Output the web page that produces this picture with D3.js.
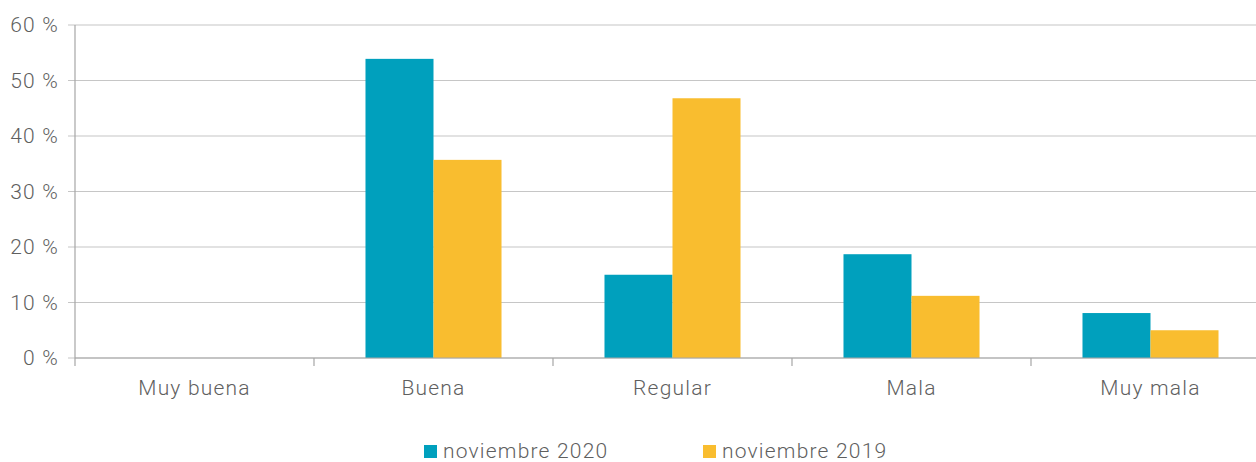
<!DOCTYPE html>
<html>
<head>
<meta charset="utf-8">
<script src="https://cdn.jsdelivr.net/npm/d3@7"></script>
<style>
  body { margin: 0; background: #fff; }
  svg text { font-family: Roboto, "Open Sans", sans-serif; fill: #5f5f5f; }
</style>
</head>
<body>
<div id="chart"></div>
<script>
const categories = ["Muy buena", "Buena", "Regular", "Mala", "Muy mala"];
const seriesNames = ["noviembre 2020", "noviembre 2019"];
const nov2020 = [0, 53.9, 15.0, 18.7, 8.1];
const nov2019 = [0, 35.7, 46.8, 11.2, 5.0];
const yTicks = [0, 10, 20, 30, 40, 50, 60];
const colors = ["#00a0bd", "#f9bd2f"];

const width = 1256, height = 462;
const margin = { top: 25, left: 75, bottom: 104 };
const plotW = 1195;
const plotH = height - margin.top - margin.bottom;

const svg = d3.select("#chart").append("svg")
  .attr("width", width)
  .attr("height", height);

const g = svg.append("g")
  .attr("transform", "translate(" + margin.left + "," + margin.top + ")");

const x = d3.scaleBand()
  .domain(categories)
  .range([0, plotW])
  .padding(0);

const xInner = d3.scaleBand()
  .domain(seriesNames)
  .range([0, x.bandwidth()])
  .paddingOuter(0.757)
  .paddingInner(0);

const y = d3.scaleLinear()
  .domain([0, 60])
  .range([plotH, 0]);

const textStyle = sel => sel
  .style("font-size", "21px")
  .style("font-weight", 300)
  .style("letter-spacing", "1.2px");

// gridlines
g.append("g")
  .selectAll("line")
  .data(yTicks)
  .enter()
  .append("line")
  .attr("x1", -7)
  .attr("x2", plotW)
  .attr("y1", d => y(d))
  .attr("y2", d => y(d))
  .attr("stroke", "#c6c6c6")
  .attr("stroke-width", 1.2);

// y labels
g.append("g")
  .selectAll("text")
  .data(yTicks)
  .enter()
  .append("text")
  .attr("x", -16)
  .attr("y", d => y(d))
  .attr("dy", "0.35em")
  .attr("text-anchor", "end")
  .call(textStyle)
  .text(d => d + " %");

// bars
const data = categories.map((c, i) => ({ cat: c, vals: [nov2020[i], nov2019[i]] }));
const groups = g.selectAll(".grp")
  .data(data)
  .enter()
  .append("g")
  .attr("transform", d => "translate(" + x(d.cat) + ",0)");

groups.selectAll("rect")
  .data(d => d.vals.map((v, k) => ({ name: seriesNames[k], v: v, k: k })))
  .enter()
  .append("rect")
  .filter(d => d.v > 0)
  .attr("x", d => xInner(d.name))
  .attr("y", d => y(d.v))
  .attr("width", xInner.bandwidth())
  .attr("height", d => plotH - y(d.v))
  .attr("fill", d => colors[d.k]);

// axes
g.append("line")
  .attr("x1", 0).attr("x2", 0)
  .attr("y1", 0).attr("y2", plotH + 8)
  .attr("stroke", "#a6a6a6").attr("stroke-width", 1.2);

g.append("line")
  .attr("x1", 0).attr("x2", plotW)
  .attr("y1", plotH).attr("y2", plotH)
  .attr("stroke", "#a6a6a6").attr("stroke-width", 1.2);

g.append("g")
  .selectAll("line")
  .data(categories.slice(1))
  .enter()
  .append("line")
  .attr("x1", d => x(d)).attr("x2", d => x(d))
  .attr("y1", plotH).attr("y2", plotH + 8)
  .attr("stroke", "#a6a6a6").attr("stroke-width", 1.2);

g.append("g")
  .selectAll("text")
  .data(categories)
  .enter()
  .append("text")
  .attr("x", d => x(d) + x.bandwidth() / 2)
  .attr("y", plotH + 37)
  .attr("text-anchor", "middle")
  .call(textStyle)
  .text(d => d);

// legend
const legendX = [424, 703];
const legend = svg.append("g");
seriesNames.forEach((s, i) => {
  legend.append("rect")
    .attr("x", legendX[i])
    .attr("y", 445)
    .attr("width", 13)
    .attr("height", 13)
    .attr("fill", colors[i]);
  legend.append("text")
    .attr("x", legendX[i] + 19)
    .attr("y", 451)
    .attr("dy", "0.35em")
    .call(textStyle)
    .text(s);
});
</script>
</body>
</html>
